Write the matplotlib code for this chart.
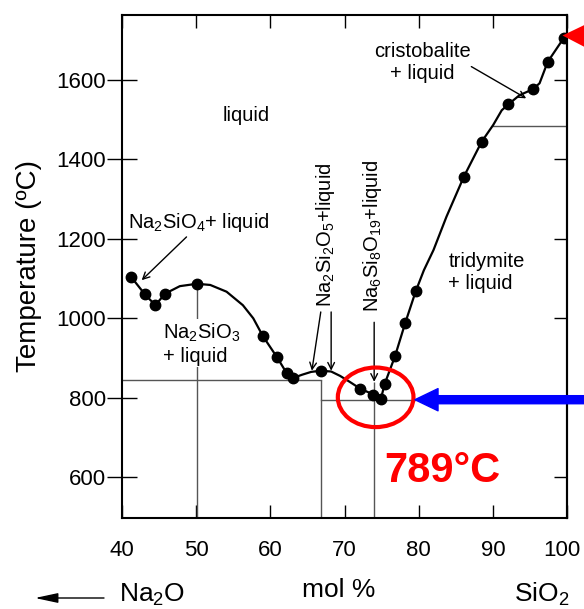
import matplotlib
matplotlib.use('Agg')
import matplotlib.pyplot as plt
from matplotlib.patches import Ellipse
from matplotlib.transforms import ScaledTranslation

plt.rcParams['font.family'] = ['Liberation Sans', 'DejaVu Sans']
plt.rcParams['mathtext.fontset'] = 'custom'
plt.rcParams['mathtext.rm'] = 'Liberation Sans'
plt.rcParams['mathtext.it'] = 'Liberation Sans:italic'
plt.rcParams['mathtext.bf'] = 'Liberation Sans:bold'

# measured liquidus points (mol % SiO2, temperature C)
dots_x = [41.2, 43.1, 44.5, 45.8, 50.1, 59.0, 60.9, 62.2, 63.1, 66.8, 72.1, 73.9,
          74.9, 75.4, 76.8, 78.2, 79.6, 86.1, 88.5, 92.1, 95.4, 97.4, 99.6]
dots_y = [1105, 1060, 1033, 1062, 1087, 955, 902, 862, 850, 867, 823, 808,
          796, 834, 904, 989, 1068, 1357, 1445, 1539, 1577, 1646, 1707]

# hand drawn liquidus curve
liq_x = [41.2, 43.1, 44.5, 45.8, 47.8, 50.1, 51.9, 54.1, 56.3, 57.7, 59.0, 60.9,
         62.2, 63.1, 64.3, 65.5, 66.8, 68.2, 69.4, 70.7, 72.1, 73.9, 74.9, 75.4,
         76.8, 78.2, 79.6, 80.7, 82.0, 83.75, 86.1, 88.5, 90.05, 91.2, 92.1, 93.6,
         95.4, 96.3, 97.4, 99.6, 100.0]
liq_y = [1105, 1060, 1033, 1062, 1081, 1087, 1084, 1067, 1033, 1000, 955, 902,
         862, 850, 858, 865, 868, 866, 855, 840, 823, 808, 796, 834,
         904, 989, 1068, 1121, 1172, 1256, 1357, 1445, 1487, 1524, 1539, 1562,
         1577, 1592, 1646, 1707, 1713]

# phase boundaries
eut1_t = 845       # Na2SiO3 / Na2Si2O5 eutectic
eut2_t = 795       # Na2Si2O5 / tridymite
trans_t = 1485     # tridymite / cristobalite
na2sio3_x, na2sio3_top = 50.1, 1087
na2si2o5_x = 66.8
na6si8o19_x, na6si8o19_top = 74.0, 840
trans_x = 90.05
eut2_end = 79.5
sio2_melt = 1713

xlim = (40, 100)
ylim = (497, 1764)
xticks = [40, 50, 60, 70, 80, 90, 100]
yticks = [600, 800, 1000, 1200, 1400, 1600]

fig = plt.figure(figsize=(5.84, 6.09), dpi=100)
ax = fig.add_axes([0.2089, 0.1494, 0.762, 0.826])

gray = '#555555'
ax.plot([xlim[0], na2si2o5_x], [eut1_t, eut1_t], color=gray, lw=1)
ax.vlines(na2si2o5_x, ylim[0], eut1_t, color=gray, lw=1)
ax.plot([na2si2o5_x, eut2_end], [eut2_t, eut2_t], color=gray, lw=1)
ax.vlines(na2sio3_x, ylim[0], na2sio3_top, color=gray, lw=1)
ax.vlines(na6si8o19_x, ylim[0], na6si8o19_top, color=gray, lw=1)
ax.plot([trans_x, xlim[1]], [trans_t, trans_t], color=gray, lw=1)

ax.plot(liq_x, liq_y, color='black', lw=1.6, zorder=3, solid_joinstyle='round')
ax.plot(dots_x, dots_y, 'o', color='black', ms=7.5, zorder=4)

fs = 14.5
arrow = dict(arrowstyle='->', lw=1, color='black', shrinkA=0, shrinkB=0, mutation_scale=12)

ax.text(56.8, 1512, 'liquid', fontsize=fs, ha='center', va='center')
ax.text(40.8, 1242, r'Na$_2$SiO$_4$+ liquid', fontsize=fs, ha='left', va='center')
ax.annotate('', xy=(42.65, 1096), xytext=(48.7, 1205), arrowprops=arrow)
ax.text(45.5, 936, 'Na$_2$SiO$_3$\n+ liquid', fontsize=fs, ha='left', va='center',
        bbox=dict(fc='white', ec='none', pad=1), zorder=2)
ax.text(84.0, 1115, 'tridymite\n+ liquid', fontsize=fs, ha='left', va='center')
ax.text(80.5, 1644, 'cristobalite\n+ liquid', fontsize=fs, ha='center', va='center',
        multialignment='center')
ax.annotate('', xy=(94.5, 1554), xytext=(87.1, 1634), arrowprops=arrow)

ax.text(67.4, 1210, r'Na$_2$Si$_2$O$_5$+liquid', fontsize=fs, rotation=90,
        ha='center', va='center')
ax.annotate('', xy=(65.6, 868), xytext=(66.8, 1016), arrowprops=arrow)
ax.annotate('', xy=(68.2, 868), xytext=(68.2, 1016), arrowprops=arrow)
ax.text(73.8, 1207, r'Na$_6$Si$_8$O$_{19}$+liquid', fontsize=fs, rotation=90,
        ha='center', va='center')
ax.annotate('', xy=(na6si8o19_x, na6si8o19_top), xytext=(na6si8o19_x, 990), arrowprops=arrow)

# highlight of the eutectic
ax.add_patch(Ellipse((74.2, 801), 10.2, 150, fill=False, ec='#ff0000', lw=3, zorder=5))
ax.text(83.2, 587, '789°C', color='#ff0000', fontsize=30, fontweight='bold',
        ha='center', va='baseline')
ax.annotate('', xy=(eut2_end, eut2_t), xytext=(1.08, eut2_t),
            textcoords=('axes fraction', 'data'), annotation_clip=False,
            arrowprops=dict(arrowstyle='simple,head_length=0.83,head_width=0.8,tail_width=0.29',
                            mutation_scale=20, color='#0000ff', shrinkA=0, shrinkB=0), zorder=6)

# SiO2 melting point marker
tri_tr = ax.transData + ScaledTranslation(4.7 / 72, 0, fig.dpi_scale_trans)
ax.plot(xlim[1], sio2_melt, marker='<', ms=18, color='#ff0000', mec='none',
        transform=tri_tr, clip_on=False, zorder=6)

ax.set_xlim(*xlim)
ax.set_ylim(*ylim)
ax.set_xticks(xticks)
ax.set_yticks(yticks)
ax.tick_params(axis='x', direction='in', length=9.5, width=1, labelsize=16, pad=15.5,
               top=True)
ax.tick_params(axis='y', direction='inout', length=21.6, width=1, labelsize=16, pad=0.5,
               right=False)
# keep the last x label inside the picture
lab100 = ax.get_xticklabels()[-1]
lab100.set_transform(lab100.get_transform() + ScaledTranslation(-4 / 72, 0, fig.dpi_scale_trans))

sec = ax.secondary_yaxis('right')
sec.set_yticks(yticks)
sec.tick_params(direction='in', length=9.5, width=1, labelright=False)
sec.spines['right'].set_linewidth(1.5)
for s in ax.spines.values():
    s.set_linewidth(1.5)

ax.set_ylabel('Temperature (ºC)', fontsize=20)
ax.yaxis.set_label_coords(-0.18, 0.5)

fig.text(0.5805, 0.0197, 'mol %', fontsize=19, ha='center', va='baseline')
fig.text(0.2603, 0.0115, 'Na$_2$O', fontsize=19, ha='center', va='baseline')
fig.text(0.9272, 0.0115, 'SiO$_2$', fontsize=19, ha='center', va='baseline')
ax.annotate('', xy=(35 / 584, 1 - 598 / 609), xytext=(104 / 584, 1 - 598 / 609),
            xycoords='figure fraction', textcoords='figure fraction',
            arrowprops=dict(arrowstyle='-|>,head_length=0.7,head_width=0.15', lw=1,
                            color='black', shrinkA=0, shrinkB=0, mutation_scale=20))

fig.savefig('out.png', dpi=100)
